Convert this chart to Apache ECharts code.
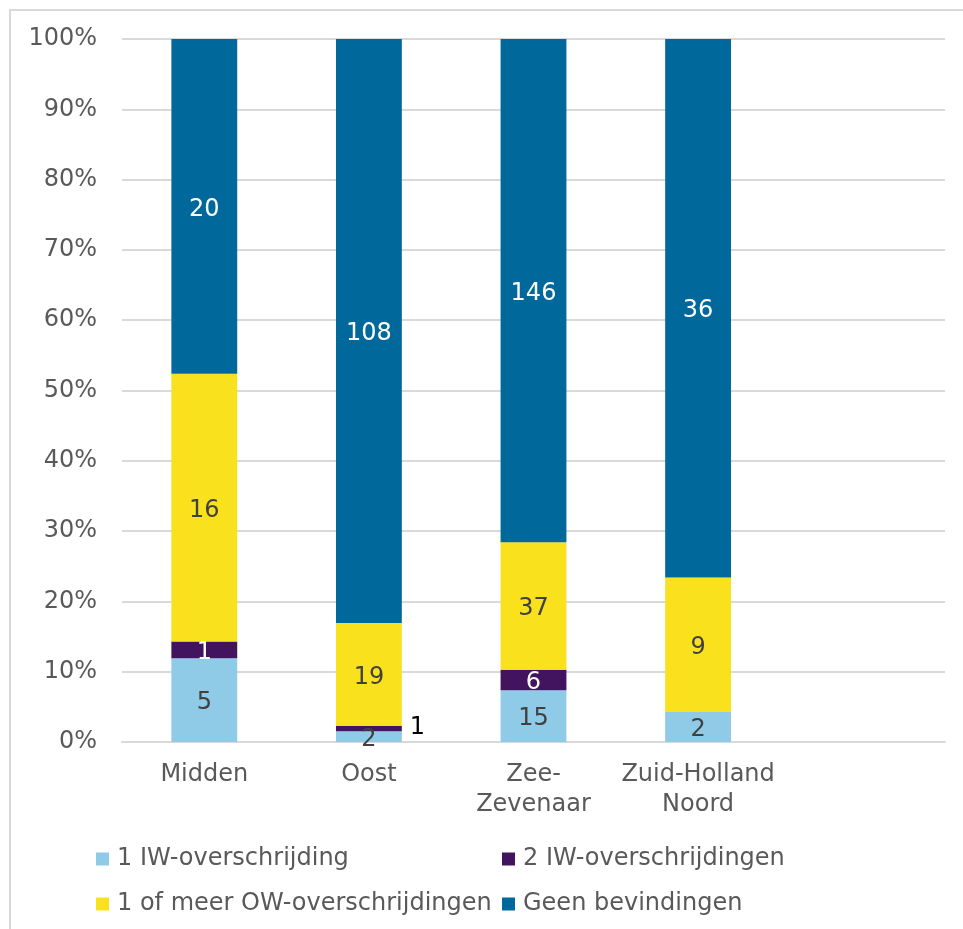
<!DOCTYPE html>
<html>
<head>
<meta charset="utf-8">
<title>IW / OW overschrijdingen per regio</title>
<script src="https://cdn.jsdelivr.net/npm/echarts@6/dist/echarts.min.js"></script>
<style>
  html, body { margin: 0; padding: 0; background: #fff; }
  #main { width: 963px; height: 929px; }
</style>
</head>
<body>
<div id="main"></div>
<script>
// regio's (laatste categorie is leeg in het origineel)
const categories = ['Midden', 'Oost', 'Zee-\nZevenaar', 'Zuid-Holland\nNoord', ''];
const seriesNames = ['1 IW-overschrijding', '2 IW-overschrijdingen', '1 of meer OW-overschrijdingen', 'Geen bevindingen'];
// aantallen per regio
const iw1 = [5, 2, 15, 2];
const iw2 = [1, 1, 6, 0];
const ow = [16, 19, 37, 9];
const geen = [20, 108, 146, 36];
const yTicks = [0, 10, 20, 30, 40, 50, 60, 70, 80, 90, 100];

const colors = ['#8FCAE7', '#42145F', '#F9E11E', '#01689B'];
const labelColors = ['#404040', '#ffffff', '#404040', '#ffffff'];
const font = '"DejaVu Sans", sans-serif';
const grey = '#595959';
const fs = 24;

let chart = echarts.init(document.getElementById('main'));

let counts = [iw1, iw2, ow, geen];
let totals = iw1.map(function (v, i) {
  return iw1[i] + iw2[i] + ow[i] + geen[i];
});

let series = counts.map(function (arr, s) {
  let data = arr.map(function (v, i) {
    let item = { value: v / totals[i] * 100, count: v };
    // het kleine paarse stukje van Oost krijgt zijn label ernaast
    if (s === 1 && v > 0 && v / totals[i] < 0.02) {
      item.label = { position: 'right', color: '#000000', distance: 8, offset: [0, -1] };
    }
    return item;
  });
  return {
    name: seriesNames[s],
    type: 'bar',
    stack: 'totaal',
    barWidth: '40%',
    itemStyle: { color: colors[s] },
    label: {
      show: true,
      position: 'inside',
      offset: [0, 3],
      color: labelColors[s],
      fontFamily: font,
      fontSize: fs,
      formatter: function (p) {
        return p.data.count ? String(p.data.count) : '';
      }
    },
    emphasis: { disabled: true },
    data: data
  };
});

// legenda: vier losse items in twee kolommen
let legendPos = [[96, 847], [502, 847], [96, 892], [502, 892]];
let legends = seriesNames.map(function (n, i) {
  return {
    data: [n],
    left: legendPos[i][0],
    top: legendPos[i][1],
    padding: 0,
    icon: 'rect',
    itemWidth: 13,
    itemHeight: 13,
    itemGap: 0,
    textStyle: { color: grey, fontFamily: font, fontSize: fs, padding: [0, 0, 0, 3] },
    selectedMode: false
  };
});

let option = {
  animation: false,
  backgroundColor: '#ffffff',
  graphic: [{
    type: 'rect',
    shape: { x: 10, y: 10, width: 1100, height: 1100 },
    style: { fill: 'none', stroke: '#d9d9d9', lineWidth: 2 },
    silent: true
  }],
  grid: { left: 122, right: 18, top: 39, bottom: 187 },
  legend: legends,
  xAxis: {
    type: 'category',
    data: categories,
    axisTick: { show: false },
    axisLine: { lineStyle: { color: '#d9d9d9', width: 2 } },
    axisLabel: {
      color: grey,
      fontFamily: font,
      fontSize: fs,
      lineHeight: 30,
      margin: 18,
      interval: 0
    }
  },
  yAxis: {
    type: 'value',
    min: yTicks[0],
    max: yTicks[yTicks.length - 1],
    interval: 10,
    axisLine: { show: false },
    axisTick: { show: false },
    splitLine: { lineStyle: { color: '#d9d9d9', width: 2 } },
    axisLabel: {
      color: grey,
      fontFamily: font,
      fontSize: fs,
      margin: 25,
      formatter: '{value}%'
    }
  },
  series: series
};

chart.setOption(option);
</script>
</body>
</html>
